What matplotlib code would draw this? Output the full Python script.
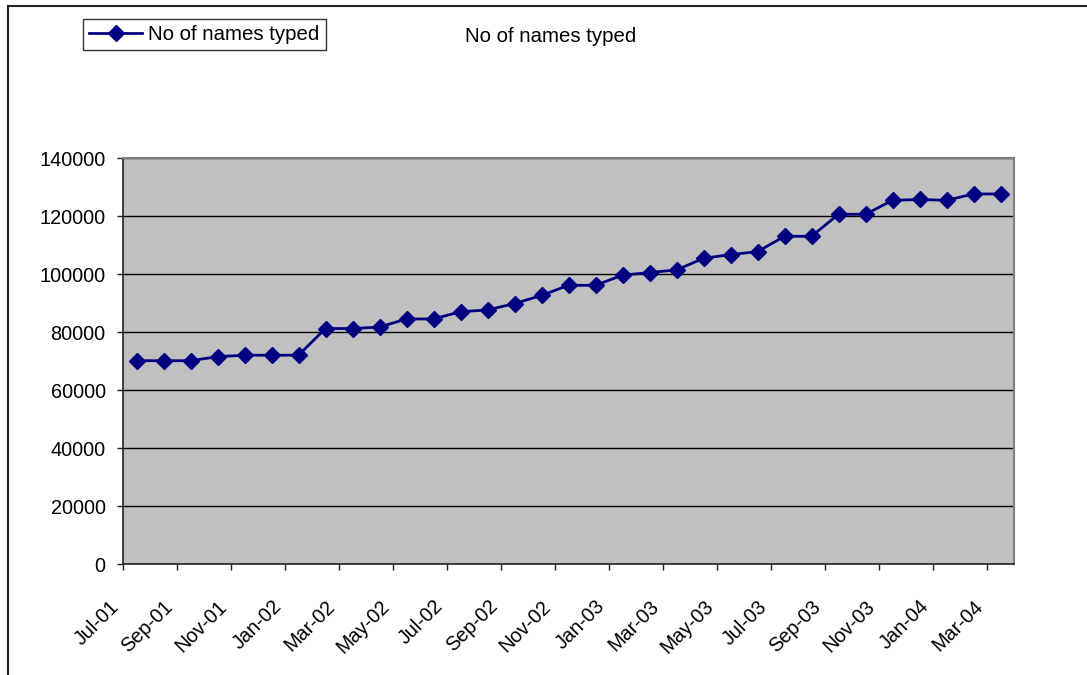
import matplotlib.pyplot as plt
from matplotlib.lines import Line2D
import numpy as np

plt.rcParams['font.family'] = ['Liberation Sans', 'DejaVu Sans']

# Data
months = ["Jul-01", "Aug-01", "Sep-01", "Oct-01", "Nov-01", "Dec-01",
          "Jan-02", "Feb-02", "Mar-02", "Apr-02", "May-02", "Jun-02",
          "Jul-02", "Aug-02", "Sep-02", "Oct-02", "Nov-02", "Dec-02",
          "Jan-03", "Feb-03", "Mar-03", "Apr-03", "May-03", "Jun-03",
          "Jul-03", "Aug-03", "Sep-03", "Oct-03", "Nov-03", "Dec-03",
          "Jan-04", "Feb-04", "Mar-04"]
names_typed = [70100, 70100, 70100, 71500, 72000, 72000,
               72000, 81200, 81200, 81700, 84500, 84500,
               87000, 87600, 89800, 92600, 96100, 96100,
               99600, 100500, 101400, 105400, 106700, 107700,
               113000, 113000, 120600, 120600, 125400, 125700,
               125400, 127600, 127600]
series_name = "No of names typed"

fig = plt.figure(figsize=(10.87, 6.75), dpi=100)
ax = fig.add_axes([123 / 1087, 1 - 564 / 675, 891 / 1087, 406 / 675])

# points sit in the middle of each month slot
x = np.arange(len(months)) + 0.5
line, = ax.plot(x, names_typed, color='#000080', lw=2, marker='D',
                markersize=8, markeredgecolor='#000080', label=series_name)

ax.set_facecolor('#c0c0c0')
ax.set_xlim(0, len(months))
ax.set_ylim(0, 140000)
ax.set_yticks(range(0, 140001, 20000))
ax.yaxis.grid(True, color='black', lw=1)
ax.set_axisbelow(True)

ax.set_xticks(np.arange(0, len(months), 2))
ax.set_xticklabels(months[::2], rotation=45, ha='right', va='top')
ax.tick_params(axis='x', direction='out', length=4.5, width=1, pad=19,
               labelsize=14.3, color='#222222')
ax.tick_params(axis='y', direction='out', length=4.5, width=1, pad=8,
               labelsize=14.3, color='#222222')

for side in ['left', 'bottom']:
    ax.spines[side].set_color('#222222')
    ax.spines[side].set_linewidth(1.2)
for side in ['top', 'right']:
    ax.spines[side].set_color('#808080')
    ax.spines[side].set_linewidth(1.5)

leg = fig.legend(handles=[line], loc='upper left',
                 bbox_to_anchor=(83 / 1087, 1 - 19 / 675),
                 fontsize=14.7, frameon=True, fancybox=False, borderpad=0.3,
                 handlelength=2.6, handletextpad=0.3, borderaxespad=0)
leg.get_frame().set_edgecolor('black')
leg.get_frame().set_linewidth(1)

fig.text(465 / 1087, 1 - 37 / 675, series_name, fontsize=14.7,
         ha='left', va='center')

# chart frame (runs past the picture edge)
fig.add_artist(Line2D([8 / 1087, 1], [1 - 6 / 675, 1 - 6 / 675],
                      transform=fig.transFigure, color='#222222', lw=1.5))
fig.add_artist(Line2D([8 / 1087, 8 / 1087], [0, 1 - 6 / 675],
                      transform=fig.transFigure, color='#222222', lw=1.5))

fig.savefig('out.png', dpi=100)
